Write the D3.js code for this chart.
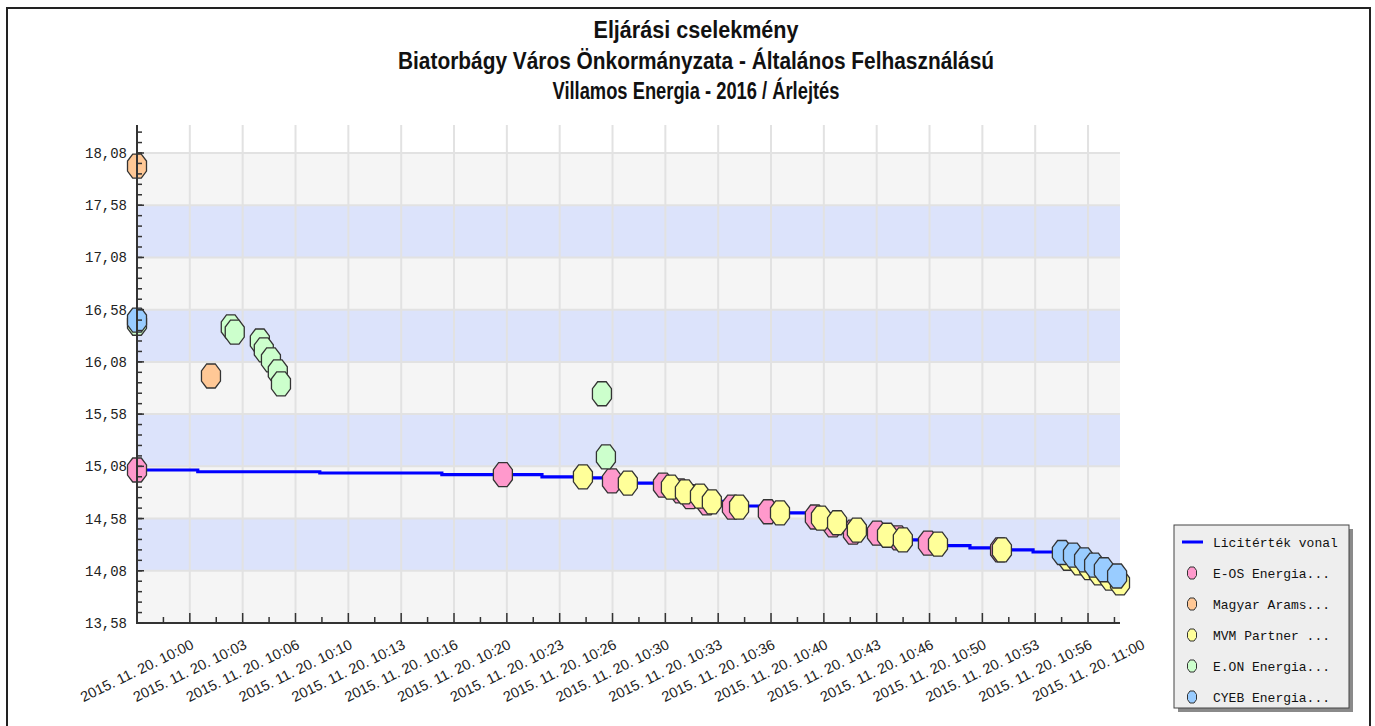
<!DOCTYPE html>
<html>
<head>
<meta charset="utf-8">
<script src="https://cdn.jsdelivr.net/npm/d3@7"></script>
<style>
  html, body { margin: 0; padding: 0; background: #fff; }
  svg { display: block; }
</style>
</head>
<body>
<svg id="chart" width="1375" height="726"></svg>
<script>
// ---------------- DATA ----------------
const titleLines = [
  "Eljárási cselekmény",
  "Biatorbágy Város Önkormányzata - Általános Felhasználású",
  "Villamos Energia - 2016 / Árlejtés"
];
const seriesNames = ["E-OS Energia...", "Magyar Arams...", "MVM Partner ...", "E.ON Energia...", "CYEB Energia..."];
const lineName = "Licitérték vonal";

const eosData = [
  ["09:56:40", 15.045], ["10:19:45", 15.00], ["10:26:38", 14.94], ["10:29:51", 14.90],
  ["10:30:55", 14.845], ["10:31:33", 14.79], ["10:32:37", 14.73], ["10:34:12", 14.69],
  ["10:36:28", 14.645], ["10:39:26", 14.595], ["10:40:34", 14.52], ["10:41:50", 14.45],
  ["10:43:21", 14.44], ["10:44:40", 14.395], ["10:46:34", 14.345], ["10:51:07", 14.28]
];
const magyarData = [["09:56:40", 17.955], ["10:01:20", 15.945]];
const mvmData = [
  ["10:24:48", 14.98], ["10:27:38", 14.92], ["10:30:21", 14.88], ["10:31:14", 14.835],
  ["10:32:11", 14.795], ["10:32:56", 14.74], ["10:34:39", 14.69], ["10:37:14", 14.635],
  ["10:39:49", 14.585], ["10:40:50", 14.54], ["10:42:05", 14.47], ["10:43:59", 14.42],
  ["10:44:59", 14.375], ["10:47:12", 14.335], ["10:51:14", 14.28], ["10:55:24", 14.20],
  ["10:56:06", 14.155], ["10:56:44", 14.11], ["10:57:21", 14.06], ["10:58:03", 14.01],
  ["10:58:41", 13.965]
];
const eonData = [
  ["09:56:40", 16.45], ["10:02:35", 16.415], ["10:02:50", 16.365], ["10:04:25", 16.28],
  ["10:04:40", 16.195], ["10:05:07", 16.10], ["10:05:33", 15.985], ["10:05:45", 15.87],
  ["10:26:00", 15.775], ["10:26:15", 15.17]
];
const cyebData = [
  ["09:56:40", 16.48], ["10:55:01", 14.255], ["10:55:43", 14.23], ["10:56:25", 14.185],
  ["10:57:03", 14.135], ["10:57:40", 14.09], ["10:58:30", 14.03]
];
const licitLine = [
  ["09:56:40", 15.045], ["10:00:30", 15.028], ["10:08:12", 15.016], ["10:15:54", 15.00],
  ["10:22:13", 14.98], ["10:24:48", 14.97], ["10:26:38", 14.94], ["10:27:38", 14.92],
  ["10:29:51", 14.90], ["10:30:21", 14.88], ["10:31:14", 14.84], ["10:32:11", 14.80],
  ["10:32:56", 14.745], ["10:34:12", 14.70], ["10:36:28", 14.65], ["10:37:14", 14.635],
  ["10:39:26", 14.60], ["10:39:49", 14.585], ["10:40:50", 14.535], ["10:42:05", 14.47],
  ["10:43:21", 14.44], ["10:43:59", 14.42], ["10:44:40", 14.395], ["10:44:59", 14.375],
  ["10:46:34", 14.345], ["10:47:12", 14.32], ["10:49:13", 14.30], ["10:51:07", 14.28],
  ["10:53:12", 14.26], ["10:55:01", 14.25], ["10:55:43", 14.22], ["10:56:25", 14.175],
  ["10:57:03", 14.125], ["10:57:40", 14.08], ["10:58:30", 14.01], ["10:58:41", 13.955]
];

const xTickTimes = ["10:00:00","10:03:20","10:06:40","10:10:00","10:13:20","10:16:40","10:20:00",
  "10:23:20","10:26:40","10:30:00","10:33:20","10:36:40","10:40:00","10:43:20","10:46:40",
  "10:50:00","10:53:20","10:56:40","11:00:00"];
const xTickLabels = ["2015. 11. 20. 10:00","2015. 11. 20. 10:03","2015. 11. 20. 10:06","2015. 11. 20. 10:10",
  "2015. 11. 20. 10:13","2015. 11. 20. 10:16","2015. 11. 20. 10:20","2015. 11. 20. 10:23",
  "2015. 11. 20. 10:26","2015. 11. 20. 10:30","2015. 11. 20. 10:33","2015. 11. 20. 10:36",
  "2015. 11. 20. 10:40","2015. 11. 20. 10:43","2015. 11. 20. 10:46","2015. 11. 20. 10:50",
  "2015. 11. 20. 10:53","2015. 11. 20. 10:56","2015. 11. 20. 11:00"];
const xMinorTimes = ["09:58:20","10:01:40","10:05:00","10:08:20","10:11:40","10:15:00","10:18:20",
  "10:21:40","10:25:00","10:28:20","10:31:40","10:35:00","10:38:20","10:41:40","10:45:00",
  "10:48:20","10:51:40","10:55:00","10:58:20"];
const yTickValues = [13.58, 14.08, 14.58, 15.08, 15.58, 16.08, 16.58, 17.08, 17.58, 18.08];
const yTickLabels = ["13,58","14,08","14,58","15,08","15,58","16,08","16,58","17,08","17,58","18,08"];
const yDomain = [13.58, 18.348];
const xDomain = ["09:56:40", "10:58:41"];

// ---------------- STYLE ----------------
const colors = ["#ff99cc", "#ffc896", "#ffff99", "#ccffcc", "#99ccff"];
const lineColor = "#0000ff";
const bandBlue = "#dce3fb", bandGray = "#f5f5f5";

// ---------------- CHART ----------------
const parseT = d3.timeParse("%Y-%m-%d %H:%M:%S");
const T = s => parseT("2015-11-20 " + s);

const svg = d3.select("#chart");
const L = 137, R = 1120, TOP = 125, BOT = 623;

const x = d3.scaleTime().domain(xDomain.map(T)).range([L, R]);
const y = d3.scaleLinear().domain(yDomain).range([BOT, TOP]);

// outer frame
svg.append("path")
  .attr("d", `M7,726 L7,8 L1370,8 L1370,726`)
  .attr("fill", "none").attr("stroke", "#222").attr("stroke-width", 2);

// title
const title = svg.append("g").attr("font-family", "'Liberation Sans Narrow','Liberation Sans',Arial,sans-serif")
  .attr("font-weight", "bold").attr("font-size", 23).attr("fill", "#111").attr("text-anchor", "middle");
const titleWidths = [205, 596, 287];
const titleBase = [38, 69, 99];
titleLines.forEach((t, i) => {
  title.append("text").attr("x", 696).attr("y", titleBase[i])
    .attr("textLength", titleWidths[i]).attr("lengthAdjust", "spacingAndGlyphs").text(t);
});

// plot background
const plot = svg.append("g");
plot.append("rect").attr("x", L).attr("y", TOP).attr("width", R - L).attr("height", BOT - TOP).attr("fill", "#fff");
const bands = d3.pairs(yTickValues);
plot.selectAll("rect.band").data(bands).join("rect").attr("class", "band")
  .attr("x", L).attr("width", R - L)
  .attr("y", d => y(d[1])).attr("height", d => y(d[0]) - y(d[1]))
  .attr("fill", (d, i) => i % 2 === 0 ? bandGray : bandBlue);

// grid
const xTicksD = xTickTimes.map(T);
plot.selectAll("line.vg").data(xTicksD.filter(d => x(d) <= R)).join("line").attr("class", "vg")
  .attr("x1", d => x(d)).attr("x2", d => x(d)).attr("y1", TOP).attr("y2", BOT)
  .attr("stroke", "#e2e2e2").attr("stroke-width", 2);
plot.selectAll("line.hg").data(yTickValues.slice(1)).join("line").attr("class", "hg")
  .attr("x1", L).attr("x2", R).attr("y1", d => y(d)).attr("y2", d => y(d))
  .attr("stroke", "#e2e2e2").attr("stroke-width", 2);

// licit line
const lineGen = d3.line().x(d => x(T(d[0]))).y(d => y(d[1])).curve(d3.curveStepAfter);
plot.append("path").datum(licitLine).attr("d", lineGen)
  .attr("fill", "none").attr("stroke", lineColor).attr("stroke-width", 3.2);

// markers: octagon
function octagon(w, h) {
  const a = w * 0.45, b = h * 0.42;
  return `M${-a},${-h}L${a},${-h}L${w},${-b}L${w},${b}L${a},${h}L${-a},${h}L${-w},${b}L${-w},${-b}Z`;
}
const allSeries = [eosData, magyarData, mvmData, eonData, cyebData];
allSeries.forEach((s, i) => {
  plot.append("g").selectAll("path").data(s).join("path")
    .attr("transform", d => `translate(${x(T(d[0]))},${y(d[1])})`)
    .attr("d", octagon(9.5, 12))
    .attr("fill", colors[i]).attr("stroke", "#333").attr("stroke-width", 1.3);
});

// axes
const axes = svg.append("g").attr("stroke", "#333");
axes.append("line").attr("x1", L).attr("x2", L).attr("y1", TOP).attr("y2", BOT + 1).attr("stroke-width", 2);
axes.append("line").attr("x1", L).attr("x2", R).attr("y1", BOT).attr("y2", BOT).attr("stroke-width", 2);
// y ticks
const yMinor = d3.range(0, 48).map(k => 13.58 + k * 0.1).filter(v => y(v) >= TOP);
axes.selectAll("line.ymin").data(yMinor).join("line").attr("class", "ymin")
  .attr("x1", L).attr("x2", L + 5).attr("y1", d => y(d)).attr("y2", d => y(d)).attr("stroke-width", 1.5);
axes.selectAll("line.ymaj").data(yTickValues).join("line").attr("class", "ymaj")
  .attr("x1", L).attr("x2", L + 7).attr("y1", d => y(d)).attr("y2", d => y(d)).attr("stroke-width", 1.5);
// x ticks
axes.selectAll("line.xmin").data(xMinorTimes.map(T).filter(d => x(d) <= R)).join("line").attr("class", "xmin")
  .attr("x1", d => x(d)).attr("x2", d => x(d)).attr("y1", BOT).attr("y2", BOT - 6).attr("stroke-width", 1.5);
axes.selectAll("line.xmaj").data(xTicksD.filter(d => x(d) <= R)).join("line").attr("class", "xmaj")
  .attr("x1", d => x(d)).attr("x2", d => x(d)).attr("y1", BOT).attr("y2", BOT - 10).attr("stroke-width", 1.5);

// y labels
svg.append("g").selectAll("text").data(yTickValues).join("text")
  .attr("x", 127).attr("y", d => y(d) + 5)
  .attr("text-anchor", "end").attr("font-family", "'Liberation Mono','DejaVu Sans Mono',monospace")
  .attr("font-size", 14).attr("fill", "#222")
  .text((d, i) => yTickLabels[i]);

// x labels
svg.append("g").selectAll("text").data(xTicksD).join("text")
  .attr("transform", d => `translate(${x(d) + 5},${BOT + 25}) rotate(-26)`)
  .attr("text-anchor", "end").attr("font-family", "'Liberation Sans',Arial,sans-serif")
  .attr("font-size", 14.5).attr("fill", "#222")
  .text((d, i) => xTickLabels[i]);

// legend
const lg = svg.append("g").attr("transform", "translate(1174,525)");
lg.append("rect").attr("x", 4).attr("y", 4).attr("width", 175).attr("height", 183).attr("fill", "#8a8a8a");
lg.append("rect").attr("x", 0).attr("y", 0).attr("width", 175).attr("height", 183)
  .attr("fill", "#eeeeee").attr("stroke", "#444").attr("stroke-width", 1);
const legendItems = [lineName].concat(seriesNames);
legendItems.forEach((name, i) => {
  const cy = 17 + i * 31;
  if (i === 0) {
    lg.append("line").attr("x1", 8).attr("x2", 29).attr("y1", cy).attr("y2", cy)
      .attr("stroke", lineColor).attr("stroke-width", 3);
  } else {
    lg.append("path").attr("transform", `translate(18,${cy})`).attr("d", octagon(4.5, 6))
      .attr("fill", colors[i - 1]).attr("stroke", "#333").attr("stroke-width", 1);
  }
  lg.append("text").attr("x", 39).attr("y", cy + 5)
    .attr("font-family", "'Liberation Mono','DejaVu Sans Mono',monospace").attr("font-size", 13)
    .attr("fill", "#111").text(name);
});
</script>
</body>
</html>
